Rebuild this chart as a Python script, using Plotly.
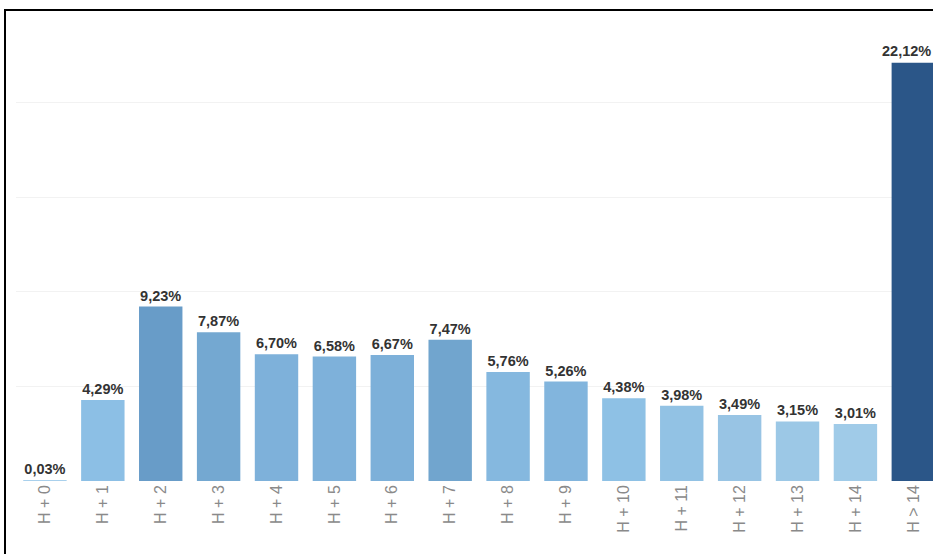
import plotly.graph_objects as go

# Share of items by delay bucket (percent)
categories = ["H + 0", "H + 1", "H + 2", "H + 3", "H + 4", "H + 5", "H + 6", "H + 7",
              "H + 8", "H + 9", "H + 10", "H + 11", "H + 12", "H + 13", "H + 14", "H > 14"]
shares = [0.03, 4.29, 9.23, 7.87, 6.70, 6.58, 6.67, 7.47,
          5.76, 5.26, 4.38, 3.98, 3.49, 3.15, 3.01, 22.12]
bar_colors = ["#a9d0ec", "#8cbfe5", "#689cc8", "#74a8d1", "#7eb1da", "#7eb1da", "#7db0d9", "#71a5ce",
              "#85b8df", "#82b5dd", "#8ec1e5", "#92c2e4", "#98c4e4", "#9cc8e6", "#a0cbe8", "#2b5688"]

labels = [f"<b>{v:.2f}%</b>".replace(".", ",") for v in shares]

W, H = 933, 554
ml, mr, mt, mb = 16, 0, 40, 73
pw, ph = W - ml - mr, H - mt - mb
label_font = dict(family="Arial, Liberation Sans, sans-serif", size=14.5, color="#333333")

# the last bar sits at the right edge, so its label is placed as a right-aligned note
bar_text = labels[:-1] + [""]

fig = go.Figure(go.Bar(
    x=categories,
    y=shares,
    marker=dict(color=bar_colors, line=dict(width=0)),
    text=bar_text,
    textposition="outside",
    constraintext="none",
    cliponaxis=False,
    textfont=label_font,
    hoverinfo="skip",
))

fig.add_annotation(x=1, xref="paper", xanchor="right", y=shares[-1], yref="y",
                   yanchor="bottom", yshift=2, text=labels[-1], showarrow=False,
                   font=label_font)

# frame line along the left and top of the panel
def px_x(p):
    return (p - ml) / pw

def px_y(p):
    return (H - mb - p) / ph

fig.add_shape(type="path", xref="paper", yref="paper",
              path=f"M {px_x(5)},{px_y(570)} L {px_x(5)},{px_y(10)} L {px_x(945)},{px_y(10)}",
              line=dict(color="#000000", width=2), layer="above")

fig.update_layout(
    width=W, height=H,
    margin=dict(l=ml, r=mr, t=mt, b=mb),
    paper_bgcolor="white",
    plot_bgcolor="white",
    bargap=0.25,
    showlegend=False,
    font=dict(family="Arial, Liberation Sans, sans-serif"),
    xaxis=dict(
        type="category",
        range=[-0.5, 15.34],
        tickangle=-90,
        tickfont=dict(size=16, color="#8a8a8a"),
        showgrid=False,
        showline=False,
        ticks="",
        ticklen=0,
        fixedrange=True,
    ),
    yaxis=dict(
        range=[0, 23.33],
        tickvals=[5, 10, 15, 20],
        showticklabels=False,
        showgrid=True,
        gridcolor="#f2f2f2",
        gridwidth=1,
        zeroline=False,
        showline=False,
        fixedrange=True,
    ),
)

fig.write_html("out.html")
